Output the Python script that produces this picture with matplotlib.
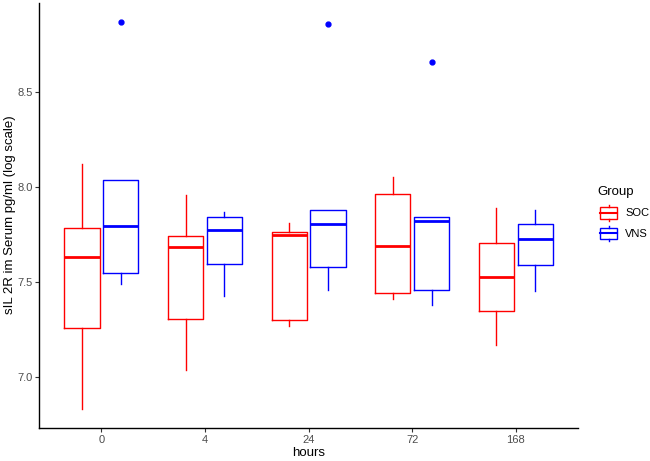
import numpy as np
import matplotlib.pyplot as plt
import matplotlib.patches as mpatch
import matplotlib.lines as mlines

plt.rcParams['font.family'] = ['Liberation Sans', 'DejaVu Sans']

hours = ['0', '4', '24', '72', '168']
groups = ['SOC', 'VNS']
colors = {'SOC': '#ff0000', 'VNS': '#0000ff'}

# five-number summaries (whisker low, Q1, median, Q3, whisker high)
soc_low = [6.835, 7.038, 7.269, 7.410, 7.170]
soc_q1 = [7.257, 7.308, 7.299, 7.443, 7.347]
soc_med = [7.632, 7.684, 7.749, 7.691, 7.527]
soc_q3 = [7.786, 7.742, 7.762, 7.963, 7.707]
soc_high = [8.120, 7.957, 7.812, 8.054, 7.888]

vns_low = [7.490, 7.427, 7.457, 7.380, 7.455]
vns_q1 = [7.548, 7.597, 7.581, 7.460, 7.590]
vns_med = [7.795, 7.775, 7.807, 7.822, 7.726]
vns_q3 = [8.035, 7.840, 7.880, 7.840, 7.805]
vns_high = [8.035, 7.866, 7.880, 7.840, 7.880]
vns_out = [[8.866], [], [8.857], [8.656], []]


def make_stats(low, q1, med, q3, high, out=None):
    res = []
    for i in range(len(low)):
        res.append({'whislo': low[i], 'q1': q1[i], 'med': med[i], 'q3': q3[i],
                    'whishi': high[i], 'fliers': out[i] if out else []})
    return res


stats = {
    'SOC': make_stats(soc_low, soc_q1, soc_med, soc_q3, soc_high),
    'VNS': make_stats(vns_low, vns_q1, vns_med, vns_q3, vns_high, vns_out),
}

fig = plt.figure(figsize=(6.5, 4.61), dpi=100)
ax = fig.add_axes([0.0605, 0.071, 0.8285, 0.923])

x = np.arange(1, len(hours) + 1)
offsets = {'SOC': -0.1875, 'VNS': 0.1875}
for g in groups:
    c = colors[g]
    ax.bxp(stats[g], positions=x + offsets[g], widths=0.34, showcaps=False,
           boxprops=dict(color=c, linewidth=1.0),
           whiskerprops=dict(color=c, linewidth=1.0),
           medianprops=dict(color=c, linewidth=2.0),
           flierprops=dict(marker='o', markerfacecolor=c, markeredgecolor=c,
                           markersize=3.5, linestyle='none'),
           manage_ticks=False)

ax.set_xlim(0.4, 5.6)
ax.set_ylim(6.732, 8.967)
ax.set_xticks(x)
ax.set_xticklabels(hours)
ax.set_yticks([7.0, 7.5, 8.0, 8.5])
ax.set_yticklabels(['7.0', '7.5', '8.0', '8.5'])
ax.tick_params(labelsize=8, colors='#333333', labelcolor='#4d4d4d', length=3, width=0.8, pad=2)
for s in ['top', 'right']:
    ax.spines[s].set_visible(False)
for s in ['left', 'bottom']:
    ax.spines[s].set_linewidth(1.0)
    ax.spines[s].set_color('black')

ax.set_xlabel('hours', fontsize=9.5, labelpad=1)
fig.text(10 / 650, 1 - 215 / 461, 'sIL 2R im Serum pg/ml (log scale)', fontsize=9.5,
         rotation=90, ha='center', va='center')

# legend drawn by hand in ggplot style
fig.text(597 / 650, 1 - 192 / 461, 'Group', fontsize=9.5, va='center', ha='left')
for i, g in enumerate(groups):
    yc = 1 - (213 + i * 20.5) / 461
    c = colors[g]
    w = 17 / 650
    h = 11.5 / 461
    x0 = 600 / 650
    fig.add_artist(mpatch.Rectangle((x0, yc - h / 2), w, h, transform=fig.transFigure,
                                    fill=False, edgecolor=c, linewidth=1.0))
    fig.add_artist(mlines.Line2D([x0, x0 + w], [yc, yc], transform=fig.transFigure,
                                 color=c, linewidth=1.5))
    xm = x0 + w / 2
    fig.add_artist(mlines.Line2D([xm, xm], [yc + h / 2, yc + h / 2 + 2 / 461],
                                 transform=fig.transFigure, color=c, linewidth=1.0))
    fig.add_artist(mlines.Line2D([xm, xm], [yc - h / 2, yc - h / 2 - 2 / 461],
                                 transform=fig.transFigure, color=c, linewidth=1.0))
    fig.text(625 / 650, yc, g, fontsize=8, va='center', ha='left')

fig.savefig('out.png', dpi=100)
